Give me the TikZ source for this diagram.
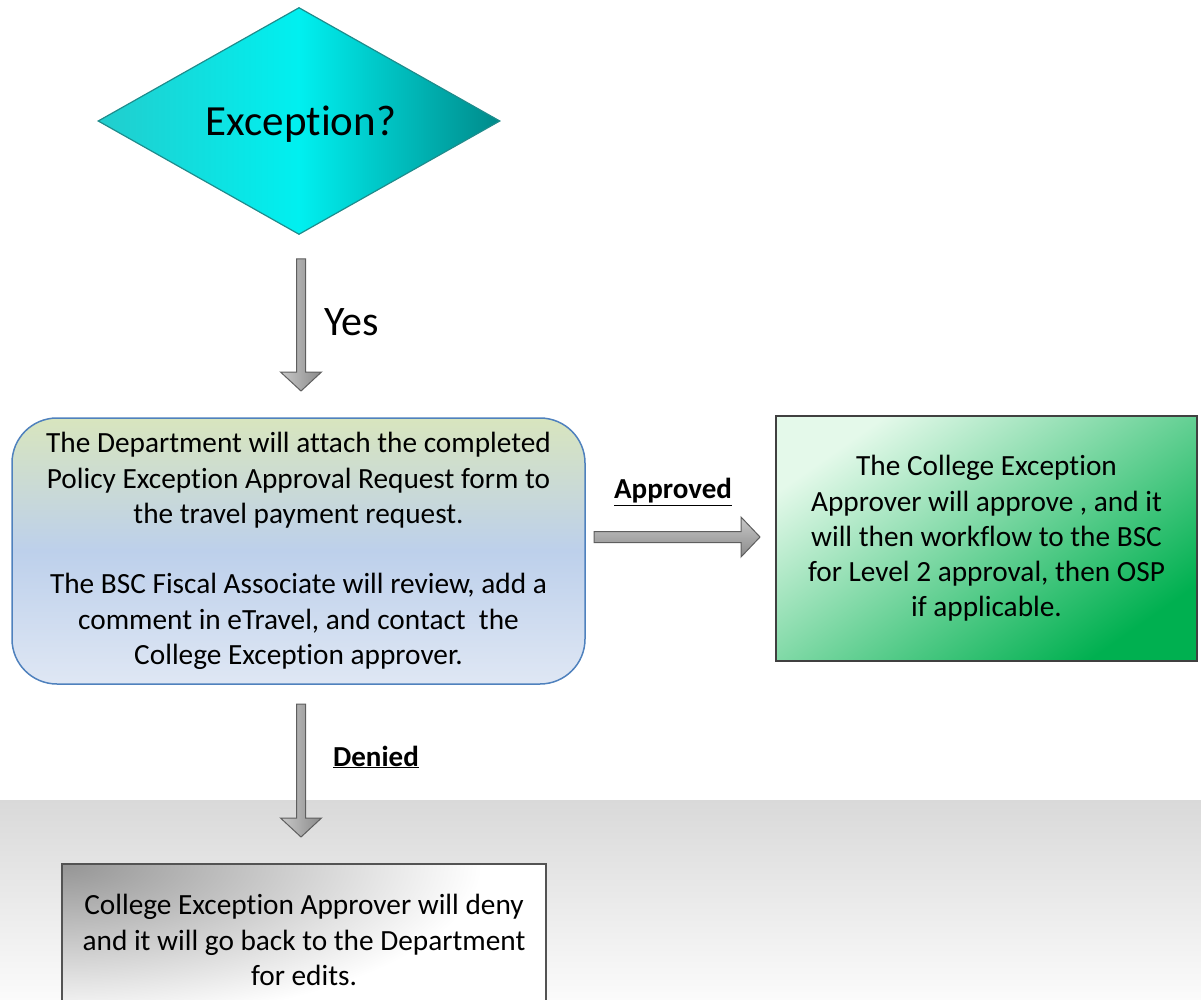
\documentclass[tikz,border=0pt]{standalone}
\usepackage{fontspec}
\setmainfont{Carlito}[Ligatures={NoCommon}]
\usetikzlibrary{shapes.geometric}
\definecolor{dmLeft}{HTML}{22CDCD}
\definecolor{dmMid}{HTML}{00F0F0}
\definecolor{dmRight}{HTML}{008A8A}
\definecolor{dmBorder}{HTML}{1E8C8C}
\definecolor{lbTop}{HTML}{D8E5BE}
\definecolor{lbMid}{HTML}{BDD0EB}
\definecolor{lbBot}{HTML}{DFE7F4}
\definecolor{lbBorder}{HTML}{4F81BD}
\definecolor{rbLight}{HTML}{E4F9EA}
\definecolor{rbDark}{HTML}{00B050}
\definecolor{boxBorder}{HTML}{404040}
\definecolor{arLight}{HTML}{C8C8C8}
\definecolor{arDark}{HTML}{8A8A8A}
\definecolor{arBorder}{HTML}{5E5E5E}
\definecolor{bgTop}{HTML}{D9D9D9}
\definecolor{bgBot}{HTML}{FBFBFB}
\definecolor{gbDark}{HTML}{959595}
\begin{document}
\begin{tikzpicture}[x=1pt,y=-1pt,
  txt/.style={font=\fontsize{29.3}{35.3}\selectfont, align=center, text=black, inner sep=0pt},
  blockarrow/.style={draw=arBorder, line width=1pt, line join=miter},
  vgrad/.style={left color=arLight, right color=arDark},
  hgrad/.style={top color=arLight, bottom color=arDark}]
\useasboundingbox (0,0) rectangle (1201,1000);
\clip (0,0) rectangle (1201,1000);
% gray background band
\fill[top color=bgTop, bottom color=bgBot] (0,800) rectangle (1201,1000);
% decision diamond
\node[diamond, draw=dmBorder, line width=1.2pt, left color=dmLeft, right color=dmRight, middle color=dmMid,
      minimum width=402pt, minimum height=227pt, inner sep=0pt] (exc) at (299,121) {};
\node[font=\fontsize{43}{50}\selectfont, inner sep=0pt] (exclab) at (301,124) {Exception?};
% department box
\node[txt, draw=lbBorder, line width=1.5pt, rounded corners=45pt,
      top color=lbTop, bottom color=lbBot, middle color=lbMid,
      minimum width=573pt, minimum height=266pt] (dept) at (298.5,551)
  {The Department will attach the completed\\Policy Exception Approval Request form to\\the travel payment request.\\[35.3pt]The BSC Fiscal Associate will review, add a\\comment in eTravel, and contact\ \ the\\College Exception approver.};
% approved box
\node[txt, draw=boxBorder, line width=2pt,
      top color=rbLight, bottom color=rbDark, shading angle=35,
      minimum width=421pt, minimum height=245pt] (appr) at (986.5,538.5)
  {The College Exception\\Approver will approve , and it\\will then workflow to the BSC\\for Level 2 approval, then OSP\\if applicable.};
% denied box: white base, radial gray glow from top-left corner, then text and border
\path[fill=white] (62,864) rectangle (546,1016);
\begin{scope}
  \clip (62,864) rectangle (546,1016);
  \shade[inner color=gbDark, outer color=white] (62,864) ellipse [x radius=420, y radius=160];
\end{scope}
\node[txt, draw=boxBorder!90, line width=2pt,
      minimum width=484pt, minimum height=152pt] (deny) at (304,940)
  {College Exception Approver will deny\\and it will go back to the Department\\for edits.};
% Yes arrow
\coordinate (yesS) at (301,259);
\path[blockarrow, vgrad] (296.5,259) -- (305.5,259) -- (305.5,372) -- (321.5,372) -- (301,391) -- (280.5,372) -- (296.5,372) -- cycle;
\node[font=\fontsize{42}{48}\selectfont, anchor=west, inner sep=0pt] (yes) at (324,322) {Yes};
% Approved arrow
\coordinate (apS) at (594,537);
\path[blockarrow, hgrad] (594,531.5) -- (741,531.5) -- (741,517) -- (760,537) -- (741,557) -- (741,542.5) -- (594,542.5) -- cycle;
\node[font=\bfseries\fontsize{29}{35}\selectfont, inner sep=0pt] (aplab) at (673,492) {\underline{Approved}};
% Denied arrow
\coordinate (dnS) at (301,704);
\path[blockarrow, vgrad] (296.5,704) -- (305.5,704) -- (305.5,818) -- (321.5,818) -- (301,837) -- (280.5,818) -- (296.5,818) -- cycle;
\node[font=\bfseries\fontsize{29}{35}\selectfont, inner sep=0pt] (dnlab) at (376,757) {\underline{Denied}};
\end{tikzpicture}
\end{document}
